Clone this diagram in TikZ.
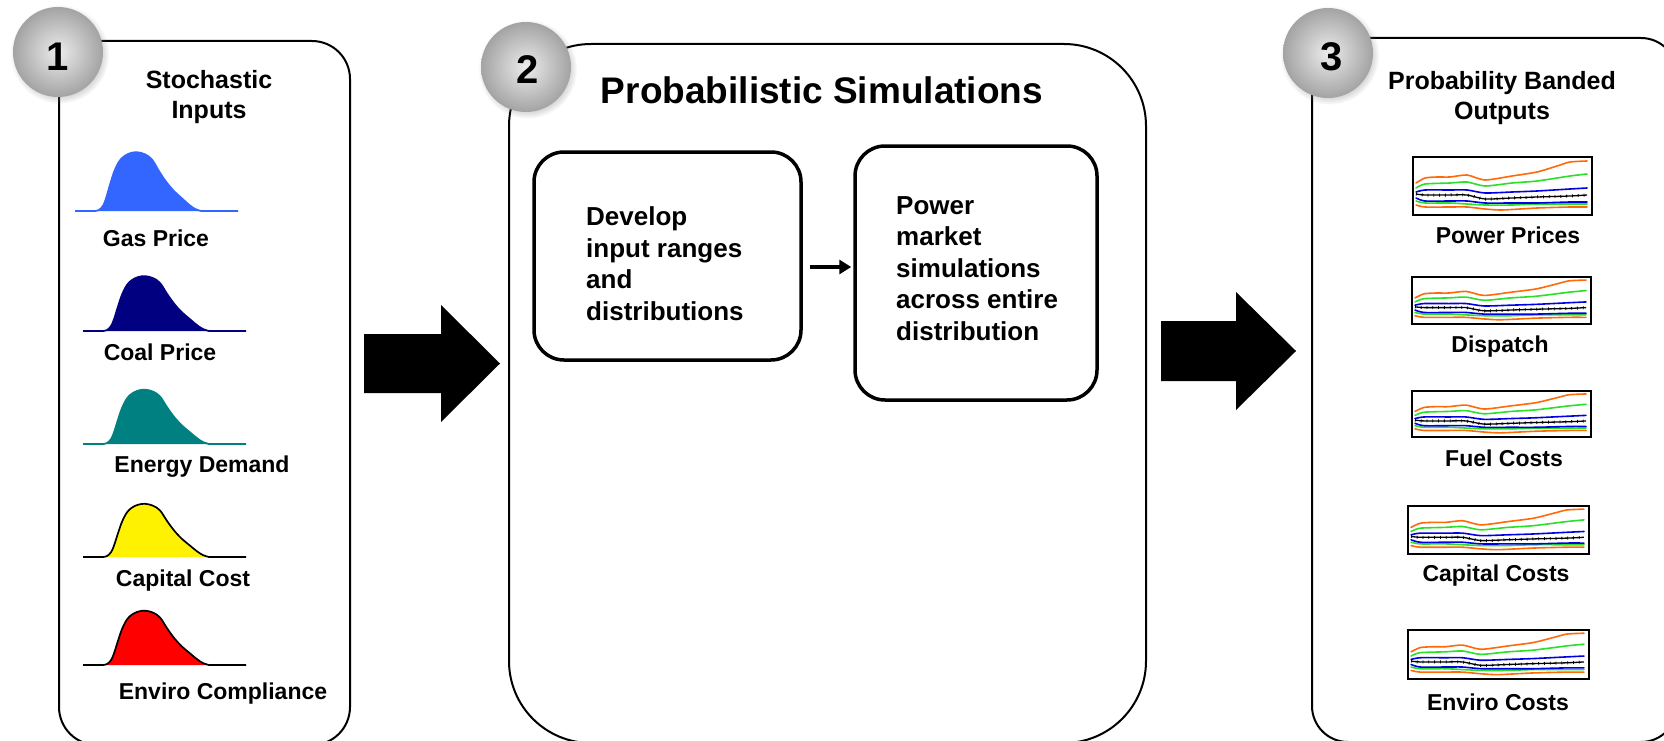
\documentclass[tikz,border=0pt]{standalone}
\usepackage{fontspec}
\setmainfont{Liberation Sans}
\usetikzlibrary{shadows,arrows.meta}
\definecolor{gasblue}{RGB}{51,102,255}
\definecolor{coalnavy}{RGB}{0,0,128}
\definecolor{tealc}{RGB}{0,128,128}
\definecolor{bandorange}{RGB}{255,105,10}
\definecolor{bandgreen}{RGB}{40,225,40}
\definecolor{bandblue}{RGB}{0,0,225}
\newcommand\fsz[2]{\fontsize{#1}{#2}\selectfont\bfseries}
\tikzset{
  panel/.style={draw, line width=2pt, rectangle, inner sep=0pt},
  innerbox/.style={draw, line width=3.5pt, rectangle, rounded corners=30pt, inner sep=0pt},
  ballnode/.style={circle, minimum size=90pt, inner sep=0pt, shade, shading=radial,
     inner color=gray!15, outer color=gray!72,
     circular drop shadow={shadow xshift=1.5pt, shadow yshift=-2pt, opacity=0.3}},
  numtxt/.style={font=\fsz{40}{44}},
  headtxt/.style={font=\fsz{25}{30}, align=center, inner sep=0pt},
  labtxt/.style={font=\fsz{23}{27}, inner sep=0pt},
  boxtxt/.style={font=\fsz{26}{31.5}, align=left, inner sep=0pt, anchor=west},
  chartbox/.style={draw, line width=2pt, rectangle, inner sep=0pt},
  bandline/.style={line width=1.6pt, line join=round, line cap=round},
  bigarrow/.style={fill=black},
  smallarrow/.style={line width=4pt, -{Triangle[length=12pt,width=14pt]}}
}
\newcommand\bellcurve[5]{% x0, y0, yscale, fill, draw
  \begin{scope}[shift={(#1,#2)}]
    \fill[#4] plot[smooth, tension=0.6] coordinates {(20,0) (24,-1*#3) (28,-5*#3) (31,-12*#3) (35,-25*#3) (39,-37*#3) (44,-47*#3) (49,-52*#3) (55,-55*#3) (62,-56*#3) (70,-54*#3) (77,-49*#3) (84,-38*#3) (91,-28*#3) (99,-19*#3) (107,-12*#3) (114,-6*#3) (120,-2*#3) (126,0)} -- cycle;
    \draw[#5, line width=1.7pt, line join=round] (0,0) -- plot[smooth, tension=0.6] coordinates {(20,0) (24,-1*#3) (28,-5*#3) (31,-12*#3) (35,-25*#3) (39,-37*#3) (44,-47*#3) (49,-52*#3) (55,-55*#3) (62,-56*#3) (70,-54*#3) (77,-49*#3) (84,-38*#3) (91,-28*#3) (99,-19*#3) (107,-12*#3) (114,-6*#3) (120,-2*#3) (126,0)} -- (163,0);
  \end{scope}}
\newcommand\bandchart[5]{% name, x, y, w, h
  \begin{scope}[shift={(#2,#3)}, xscale=#4/179, yscale=#5/58]
    \draw[bandline, bandorange] plot[smooth, tension=0.4] coordinates {(4,27) (13,22) (25,21) (38,21) (55,19) (73,24) (100,20) (125,16) (145,10) (158,6) (175,5)};
    \draw[bandline, bandgreen] plot[smooth, tension=0.4] coordinates {(4,32) (13,28) (38,27) (55,26) (73,30) (100,27) (125,25) (158,20) (175,18)};
    \draw[bandline, bandblue] plot[smooth, tension=0.4] coordinates {(4,36) (13,34) (38,34) (55,34) (73,37) (100,36) (125,35) (158,33) (175,32)};
    \draw[bandline, bandorange] plot[smooth, tension=0.4] coordinates {(4,49) (13,51) (38,51) (55,51) (73,53) (90,54) (125,52) (158,51) (175,51)};
    \draw[bandline, bandgreen] plot[smooth, tension=0.4] coordinates {(4,45) (13,47) (38,47) (55,48) (73,49) (100,49) (125,48) (158,48) (175,48)};
    \draw[bandline, bandblue] plot[smooth, tension=0.4] coordinates {(4,42) (13,45) (38,45) (55,45) (73,47) (100,47) (125,47) (158,46) (175,46)};
    \draw[black, line width=1.3pt, line join=round] plot[smooth, tension=0.4] coordinates {(4,38) (13,39) (38,39) (55,39) (73,43) (100,42) (125,41) (158,40) (175,39)};
    \draw[black, line width=3pt, dash pattern=on 0.8pt off 5pt] plot[smooth, tension=0.4] coordinates {(4,38) (13,39) (38,39) (55,39) (73,43) (100,42) (125,41) (158,40) (175,39)};
  \end{scope}
  \node[chartbox, minimum width=#4pt, minimum height=#5pt, anchor=north west] (#1) at (#2,#3) {};}
\begin{document}
\begin{tikzpicture}[x=1pt, y=-1pt]
  \useasboundingbox (0,0) rectangle (1664,741);
  \fill[white] (0,0) rectangle (1664,741);
  \clip (0,0) rectangle (1664,741);

  % panels
  \node[panel, rounded corners=38pt, minimum width=291pt, minimum height=704pt] (p1) at (204.5,393) {};
  \node[panel, rounded corners=82pt, minimum width=637pt, minimum height=699pt] (p2) at (827.5,393.5) {};
  \node[panel, rounded corners=36pt, minimum width=365pt, minimum height=704pt] (p3) at (1494.5,390) {};

  % numbered balls
  \node[ballnode] (c1) at (58,52) {};
  \node[ballnode] (c2) at (526,67) {};
  \node[ballnode] (c3) at (1328,53) {};
  \node[numtxt] (n1) at (58,57) {1};
  \node[numtxt] (n2) at (528,70) {2};
  \node[numtxt] (n3) at (1332,57) {3};

  % panel 1
  \node[headtxt] (h1) at (209,97) {Stochastic\\Inputs};
  \bellcurve{75}{211}{1.05}{gasblue}{gasblue}
  \bellcurve{83}{331}{0.98}{coalnavy}{coalnavy}
  \bellcurve{83}{444}{0.97}{tealc}{tealc}
  \bellcurve{83}{557}{0.95}{yellow}{black}
  \bellcurve{83}{665}{0.97}{red}{black}
  \node[labtxt] (l1) at (156,238) {Gas Price};
  \node[labtxt] (l2) at (160,352) {Coal Price};
  \node[labtxt] (l3) at (202,467) {Energy Demand};
  \node[labtxt] (l4) at (183,581) {Capital Cost};
  \node[labtxt] (l5) at (223,694) {Enviro Compliance};

  % big arrows
  \fill[bigarrow] (364,334) -- (441,334) -- (441,305) -- (500,363.5) -- (441,422) -- (441,393) -- (364,393) -- cycle;
  \fill[bigarrow] (1161,321) -- (1236,321) -- (1236,292) -- (1296,351) -- (1236,410) -- (1236,381) -- (1161,381) -- cycle;

  % panel 2
  \node[font=\fsz{37}{42}, inner sep=0pt] (title) at (822,90) {Probabilistic Simulations};
  \node[innerbox, minimum width=267pt, minimum height=208pt] (box1) at (667.5,256) {};
  \node[innerbox, minimum width=242pt, minimum height=254pt] (box2) at (976,273) {};
  \node[boxtxt] (t1) at (586,263.5) {Develop\\input ranges\\and\\distributions};
  \node[boxtxt] (t2) at (896,268.5) {Power\\market\\simulations\\across entire\\distribution};
  \coordinate (ar) at (830,267);
  \draw[smallarrow, shorten <=7pt, shorten >=2pt] (box1.east |- ar) -- (box2.west |- ar);

  % panel 3
  \node[headtxt] (h3) at (1502,98) {Probability Banded\\Outputs};
  \bandchart{g1}{1412}{156}{179}{58}
  \bandchart{g2}{1411}{276}{179}{47}
  \bandchart{g3}{1411}{390}{179}{46}
  \bandchart{g4}{1407}{505}{181}{48}
  \bandchart{g5}{1407}{629}{181}{49}
  \node[labtxt] (o1) at (1508,235) {Power Prices};
  \node[labtxt] (o2) at (1500,347) {Dispatch};
  \node[labtxt] (o3) at (1504,458) {Fuel Costs};
  \node[labtxt] (o4) at (1496,576) {Capital Costs};
  \node[labtxt] (o5) at (1498,702) {Enviro Costs};
\end{tikzpicture}
\end{document}
